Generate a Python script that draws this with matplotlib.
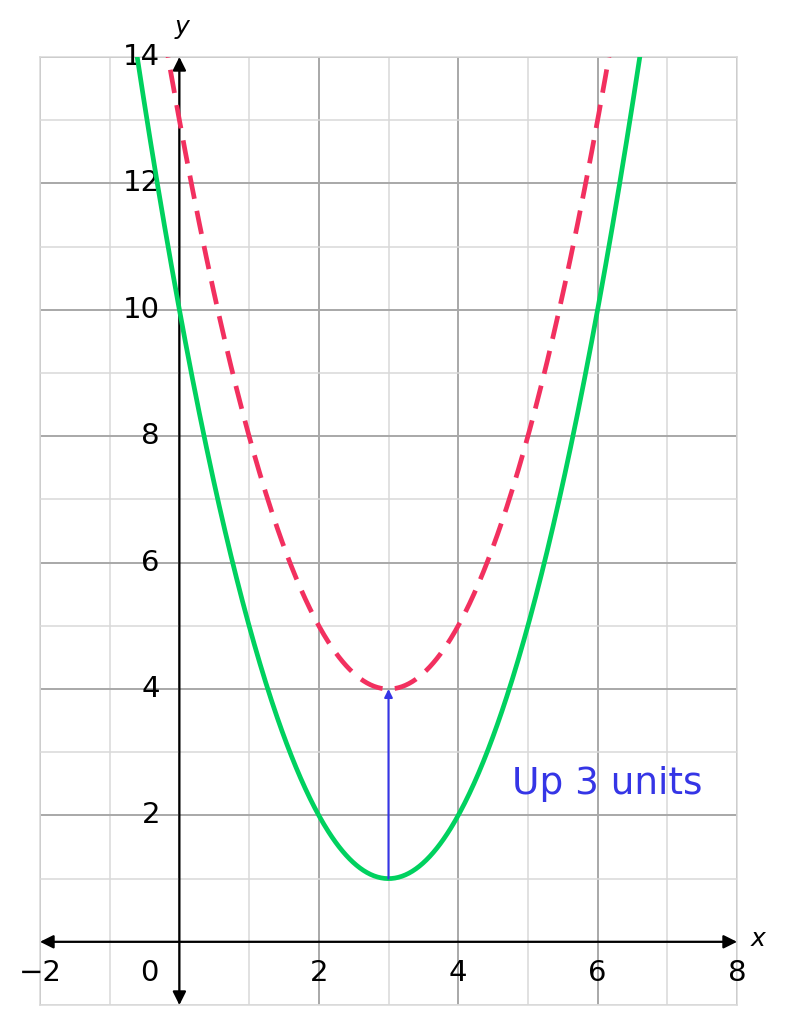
import numpy as np
import matplotlib
matplotlib.use("Agg")
import matplotlib.pyplot as plt

# parabola y = a(x - h)^2 + k, then shifted up
a = 1
h = 3
k = 1
shift = 3
x_ticks = [-2, 0, 2, 4, 6, 8]
x_tick_labels = ["\u22122", "0", "2", "4", "6", "8"]
y_ticks = [2, 4, 6, 8, 10, 12, 14]
y_tick_labels = ["2", "4", "6", "8", "10", "12", "14"]
note = "Up 3 units"

green = "#00d15f"
red = "#f2305f"
blue = "#3535e6"

fig = plt.figure(figsize=(7.85, 10.24), dpi=100)
ax = fig.add_axes([40/785, 19/1024, 697/785, 948/1024])
ax.set_xlim(-2, 8)
ax.set_ylim(-1, 14)

ax.set_xticks(range(-2, 9, 2))
ax.set_xticks(range(-1, 9, 2), minor=True)
ax.set_yticks(range(0, 15, 2))
ax.set_yticks(range(-1, 15, 2), minor=True)
ax.grid(which="major", color="#a8a8a8", lw=1.4)
ax.grid(which="minor", color="#d8d8d8", lw=1.1)
ax.tick_params(which="both", length=0, labelbottom=False, labelleft=False)
for s in ax.spines.values():
    s.set_color("#d8d8d8")
    s.set_linewidth(1.1)
ax.set_axisbelow(True)

xs = np.linspace(-2, 8, 600)
y1 = a * (xs - h) ** 2 + k
y2 = y1 + shift
ax.plot(xs, y1, color=green, lw=3.4, zorder=4)
ax.plot(xs, y2, color=red, lw=3.4, ls=(0, (5, 2.6)), zorder=4)

# axes with arrows
ax.annotate("", xy=(8, 0), xytext=(-2, 0),
            arrowprops=dict(arrowstyle="<|-|>", color="black", lw=1.6,
                            mutation_scale=20, shrinkA=0, shrinkB=0), zorder=3)
ax.annotate("", xy=(0, 14), xytext=(0, -1),
            arrowprops=dict(arrowstyle="<|-|>", color="black", lw=1.6,
                            mutation_scale=20, shrinkA=0, shrinkB=0), zorder=3)
ax.text(8.3, 0.05, "x", fontsize=18, style="italic", ha="center", va="center", clip_on=False)
ax.text(0.04, 14.47, "y", fontsize=18, style="italic", ha="center", va="center", clip_on=False)

for xv, lab in zip(x_ticks, x_tick_labels):
    xp = -0.43 if xv == 0 else xv
    ax.text(xp, -0.49, lab, fontsize=21, ha="center", va="center")
for yv, lab in zip(y_ticks, y_tick_labels):
    ax.text(-0.28, yv, lab, fontsize=21, ha="right", va="center")

# shift arrow
ax.annotate("", xy=(h, k + shift), xytext=(h, k),
            arrowprops=dict(arrowstyle="-|>", color=blue, lw=1.5,
                            mutation_scale=12, shrinkA=0, shrinkB=0), zorder=5)
ax.text(6.14, 2.5, note, color=blue, fontsize=27, ha="center", va="center")

fig.savefig("out.png", dpi=100)
